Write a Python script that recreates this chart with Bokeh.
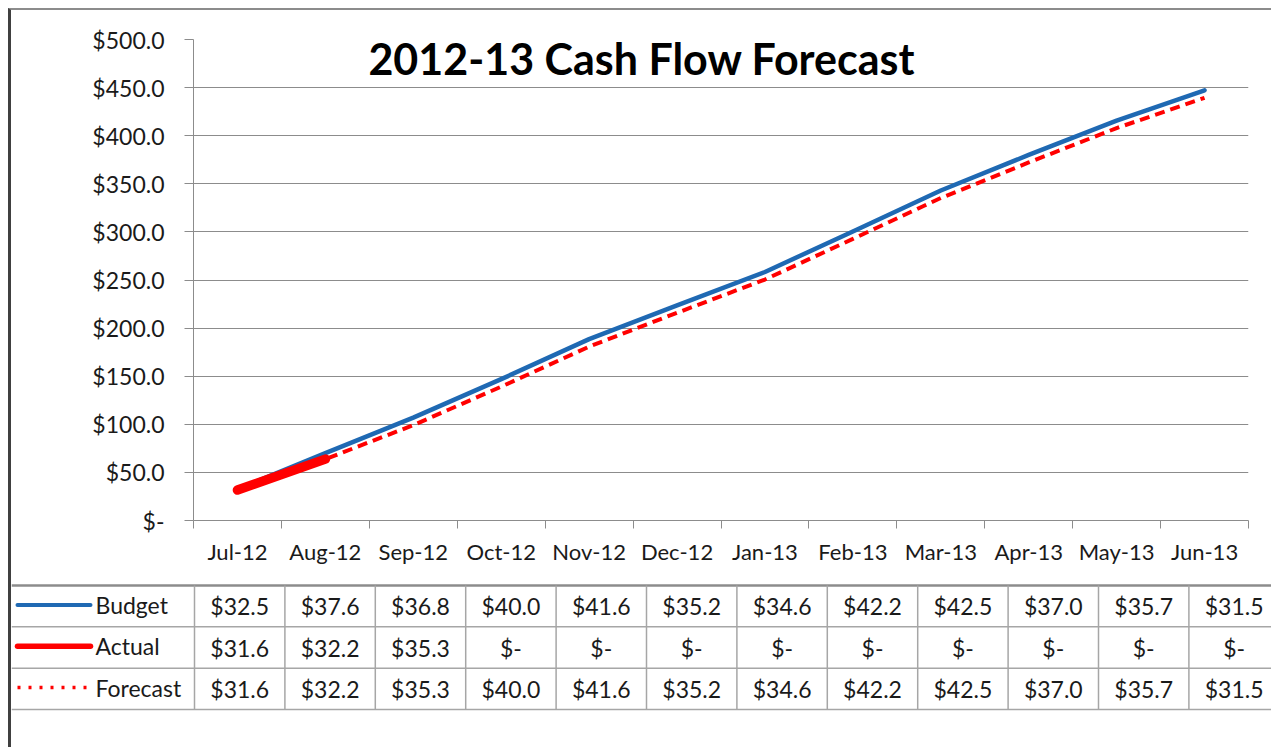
import numpy as np
from bokeh.plotting import figure
from bokeh.models import Range1d, FixedTicker, Label
from bokeh.embed import file_html
from bokeh.resources import INLINE
from bokeh.core.properties import value

# ---------------- data ----------------
months = ["Jul-12", "Aug-12", "Sep-12", "Oct-12", "Nov-12", "Dec-12",
          "Jan-13", "Feb-13", "Mar-13", "Apr-13", "May-13", "Jun-13"]
budget = [32.5, 37.6, 36.8, 40.0, 41.6, 35.2, 34.6, 42.2, 42.5, 37.0, 35.7, 31.5]
actual = [31.6, 32.2, 35.3, 0, 0, 0, 0, 0, 0, 0, 0, 0]
forecast = [31.6, 32.2, 35.3, 40.0, 41.6, 35.2, 34.6, 42.2, 42.5, 37.0, 35.7, 31.5]
actual_months_plotted = 2
series_names = ["Budget", "Actual", "Forecast"]
y_ticks = [0, 50, 100, 150, 200, 250, 300, 350, 400, 450, 500]
y_tick_labels = ["$-", "$50.0", "$100.0", "$150.0", "$200.0", "$250.0",
                 "$300.0", "$350.0", "$400.0", "$450.0", "$500.0"]
title_text = "2012-13 Cash Flow Forecast"

# ---------------- style ----------------
FONT = "Lato"
TXT = "#1a1a1a"
GRID = "#8c8c8c"
BLUE = "#1F69B3"
RED = "#FF0000"
W = 1263
H1 = 570
H2 = 169
FRAME_L = 182
FRAME_W = 1055
FRAME_T = 29
FRAME_H = 481

n = len(months)
x = np.arange(n)
cum_budget = np.cumsum(budget)
cum_forecast = np.cumsum(forecast)
cum_actual = np.cumsum(actual)[:actual_months_plotted]

# ---------------- chart ----------------
p = figure(width=W, height=H1, x_range=Range1d(-0.5, n - 0.5), y_range=Range1d(0, 500),
           output_backend="svg", toolbar_location=None,
           min_border_left=FRAME_L, min_border_right=W - FRAME_L - FRAME_W,
           min_border_top=FRAME_T, min_border_bottom=H1 - FRAME_T - FRAME_H)
p.outline_line_color = None
p.background_fill_color = "white"
p.border_fill_color = "white"
p.styles = {"margin-left": "8px", "margin-top": "8px",
            "border-left": "3px solid #404040", "border-top": "2px solid #8c8c8c"}

p.xgrid.visible = False
p.ygrid.ticker = FixedTicker(ticks=y_ticks)
p.ygrid.grid_line_color = GRID
p.ygrid.grid_line_width = 1

ya = p.yaxis[0]
ya.ticker = FixedTicker(ticks=y_ticks)
ya.major_label_overrides = {t: l for t, l in zip(y_ticks, y_tick_labels)}
ya.major_tick_out = 9
ya.major_tick_in = 0
ya.minor_tick_line_color = None
ya.axis_line_color = GRID
ya.major_tick_line_color = GRID
ya.major_label_standoff = 20
ya.major_label_text_font = FONT
ya.major_label_text_font_size = "23px"
ya.major_label_text_color = TXT

xa = p.xaxis[0]
bounds = list(np.append(x - 0.5, n - 0.5))
xa.ticker = FixedTicker(ticks=list(x), minor_ticks=bounds)
xa.major_label_overrides = {int(i): m for i, m in zip(x, months)}
xa.major_tick_line_color = None
xa.major_tick_out = 8
xa.major_tick_in = 0
xa.minor_tick_out = 8
xa.minor_tick_in = 0
xa.minor_tick_line_color = GRID
xa.axis_line_color = GRID
xa.major_label_standoff = 9
xa.major_label_text_font = FONT
xa.major_label_text_font_size = "22px"
xa.major_label_text_color = TXT

p.line(x, cum_budget, line_color=BLUE, line_width=4.5, line_cap="round", line_join="round")
p.line(x, cum_forecast, line_color=RED, line_width=4, line_dash="10 6")
p.line(x[:actual_months_plotted], cum_actual, line_color=RED, line_width=9.5,
       line_cap="round", line_join="round")

p.add_layout(Label(x=4.6, y=480, text=title_text, text_font=FONT, text_font_style="bold",
                   text_font_size="43px", text_align="center", text_baseline="middle",
                   text_color="#000000"))

# ---------------- data table ----------------
COL_W = 90.4
first_col_px = 183
x0 = -first_col_px / COL_W
x1 = (W - first_col_px) / COL_W
ROW_H = 124 / 3
TOP_PX = 7
t = figure(width=W, height=H2, x_range=Range1d(x0, x1),
           y_range=Range1d(3 + (H2 - TOP_PX - 3 * ROW_H) / ROW_H, -TOP_PX / ROW_H),
           x_axis_location=None, y_axis_location=None,
           output_backend="svg", toolbar_location=None, min_border=0)
t.grid.visible = False
t.outline_line_color = None
t.background_fill_color = "white"
t.border_fill_color = "white"
t.styles = {"margin-left": "8px", "border-left": "3px solid #404040"}

nrows = len(series_names)
# horizontal rules
t.segment(x0=[x0] * nrows, y0=list(range(1, nrows + 1)), x1=[x1] * nrows,
          y1=list(range(1, nrows + 1)), line_color="#a6a6a6", line_width=1.5)
t.segment(x0=[x0], y0=[0], x1=[x1], y1=[0], line_color="#8c8c8c", line_width=2.5)
# vertical rules
t.segment(x0=list(range(n + 1)), y0=[0] * (n + 1), x1=list(range(n + 1)),
          y1=[nrows] * (n + 1), line_color="#a6a6a6", line_width=1.5)

rows = [budget, actual, forecast]
tx, ty, tt = [], [], []
for r, vals in enumerate(rows):
    for i, v in enumerate(vals):
        tx.append(i + 0.5)
        ty.append(r + 0.5)
        tt.append(f"${v:.1f}" if v else "$-")
t.text(x=tx, y=ty, text=tt, text_font=value(FONT), text_font_size="23px",
       text_color=TXT, text_align="center", text_baseline="middle")

# legend keys
lx0 = (6 - first_col_px) / COL_W
lx1 = (79 - first_col_px) / COL_W
t.segment(x0=[lx0], y0=[0.47], x1=[lx1], y1=[0.47], line_color=BLUE, line_width=4, line_cap="round")
t.segment(x0=[lx0], y0=[1.47], x1=[lx1], y1=[1.47], line_color=RED, line_width=5.5, line_cap="round")
t.segment(x0=[lx0], y0=[2.47], x1=[lx1], y1=[2.47], line_color=RED, line_width=3.5,
          line_dash="3 8")
t.text(x=[(84 - first_col_px) / COL_W] * nrows, y=[r + 0.47 for r in range(nrows)],
       text=series_names, text_font=value(FONT), text_font_size="23px",
       text_color=TXT, text_align="left", text_baseline="middle")

open("out.html", "w").write(file_html([p, t], INLINE))
